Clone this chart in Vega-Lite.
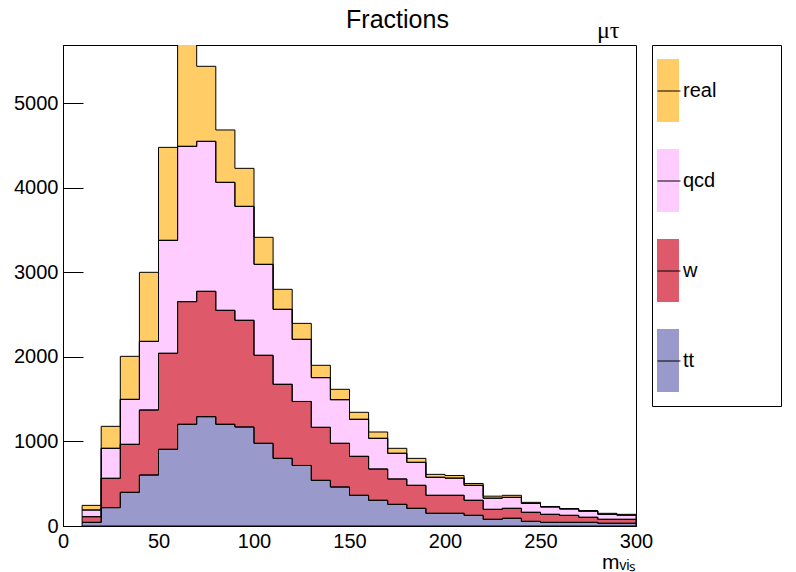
{
  "$schema": "https://vega.github.io/schema/vega-lite/v6.json",
  "width": 573,
  "height": 481,
  "autosize": {"type": "none"},
  "padding": {"left": 63, "top": 45, "right": 160, "bottom": 46},
  "background": "white",
  "title": {"text": "Fractions", "anchor": "middle", "dx": 48, "fontSize": 25, "font": "Liberation Sans", "fontWeight": "normal", "color": "black", "offset": -15},
  "datasets": {
    "hist": [
      {"lo": 10, "tt": 43, "w": 67, "qcd": 79, "real": 55},
      {"lo": 20, "tt": 217, "w": 347, "qcd": 355, "real": 260},
      {"lo": 30, "tt": 398, "w": 568, "qcd": 532, "real": 509},
      {"lo": 40, "tt": 603, "w": 769, "qcd": 812, "real": 817},
      {"lo": 50, "tt": 907, "w": 1136, "qcd": 1336, "real": 1100},
      {"lo": 60, "tt": 1203, "w": 1451, "qcd": 1837, "real": 1209},
      {"lo": 70, "tt": 1293, "w": 1483, "qcd": 1774, "real": 888},
      {"lo": 80, "tt": 1203, "w": 1348, "qcd": 1514, "real": 620},
      {"lo": 90, "tt": 1171, "w": 1262, "qcd": 1348, "real": 450},
      {"lo": 100, "tt": 978, "w": 1041, "qcd": 1076, "real": 320},
      {"lo": 110, "tt": 800, "w": 876, "qcd": 887, "real": 237},
      {"lo": 120, "tt": 716, "w": 757, "qcd": 735, "real": 189},
      {"lo": 130, "tt": 540, "w": 627, "qcd": 588, "real": 146},
      {"lo": 140, "tt": 461, "w": 517, "qcd": 516, "real": 123},
      {"lo": 150, "tt": 363, "w": 461, "qcd": 438, "real": 83},
      {"lo": 160, "tt": 304, "w": 370, "qcd": 363, "real": 75},
      {"lo": 170, "tt": 256, "w": 300, "qcd": 304, "real": 59},
      {"lo": 180, "tt": 209, "w": 272, "qcd": 272, "real": 47},
      {"lo": 190, "tt": 150, "w": 213, "qcd": 213, "real": 35},
      {"lo": 200, "tt": 150, "w": 213, "qcd": 203, "real": 31},
      {"lo": 210, "tt": 126, "w": 178, "qcd": 177, "real": 22},
      {"lo": 220, "tt": 79, "w": 118, "qcd": 132, "real": 24},
      {"lo": 230, "tt": 91, "w": 118, "qcd": 130, "real": 24},
      {"lo": 240, "tt": 55, "w": 107, "qcd": 106, "real": 12},
      {"lo": 250, "tt": 43, "w": 95, "qcd": 87, "real": 6},
      {"lo": 260, "tt": 43, "w": 83, "qcd": 75, "real": 6},
      {"lo": 270, "tt": 43, "w": 60, "qcd": 72, "real": 8},
      {"lo": 280, "tt": 32, "w": 47, "qcd": 59, "real": 12},
      {"lo": 290, "tt": 32, "w": 47, "qcd": 49, "real": 10},
      {"lo": 300, "tt": 32, "w": 47, "qcd": 49, "real": 10}
    ],
    "ord": [
      {"key": "tt", "k": 1},
      {"key": "w", "k": 2},
      {"key": "qcd", "k": 3},
      {"key": "real", "k": 4}
    ]
  },
  "data": {"name": "hist"},
  "transform": [
    {"fold": ["tt", "w", "qcd", "real"], "as": ["key", "count"]},
    {"lookup": "key", "from": {"data": {"name": "ord"}, "key": "key", "fields": ["k"]}}
  ],
  "config": {
    "view": {"stroke": "black", "strokeWidth": 1},
    "font": "Liberation Sans"
  },
  "layer": [
    {
      "mark": {"type": "area", "interpolate": "step-after", "clip": true, "opacity": 1},
      "encoding": {
        "x": {
          "field": "lo", "type": "quantitative",
          "scale": {"domain": [0, 300], "nice": false, "zero": false},
          "axis": {
            "values": [0, 50, 100, 150, 200, 250, 300],
            "tickSize": -13,
            "labelFlush": false,
            "labelOverlap": false,
            "labelFontSize": 20,
            "labelFont": "Liberation Sans",
            "labelColor": "black",
            "labelPadding": 18,
            "tickColor": "black",
            "domainColor": "black",
            "grid": false,
            "title": "mᵥᵢₛ",
            "titleAnchor": "end",
            "titleFont": "Liberation Sans",
            "titleFontSize": 21,
            "titleFontWeight": "normal",
            "titleColor": "black",
            "titlePadding": 0
          }
        },
        "y": {
          "field": "count", "type": "quantitative", "stack": "zero",
          "scale": {"domain": [0, 5690], "nice": false},
          "axis": {
            "values": [0, 1000, 2000, 3000, 4000, 5000],
            "format": "d",
            "tickSize": -20,
            "labelFontSize": 20,
            "labelFont": "Liberation Sans",
            "labelColor": "black",
            "labelPadding": 25,
            "tickColor": "black",
            "domainColor": "black",
            "grid": false,
            "title": null
          }
        },
        "fill": {
          "field": "key", "type": "nominal",
          "scale": {"domain": ["real", "qcd", "w", "tt"], "range": ["#FFCC66", "#FFCCFF", "#DE5A6A", "#9999CC"]},
          "legend": {
            "orient": "none", "legendX": 589, "legendY": 0, "title": null,
            "strokeColor": "black", "padding": 14,
            "symbolType": "M-1,-1H-0.302V1H-1Z", "symbolSize": 3969,
            "symbolStrokeWidth": 0, "symbolOpacity": 1,
            "rowPadding": 27, "symbolOffset": -9, "labelOffset": -37,
            "labelFontSize": 20, "labelFont": "Liberation Sans", "labelColor": "black",
            "labelExpr": "datum.label + '\u00a0\u00a0\u00a0\u00a0\u00a0\u00a0\u00a0\u00a0\u00a0\u200b'"
          }
        },
        "order": {"field": "k", "type": "quantitative", "sort": "ascending"}
      }
    },
    {
      "mark": {"type": "area", "interpolate": "step-after", "clip": true, "fill": "transparent", "strokeWidth": 1, "opacity": 1},
      "encoding": {
        "x": {
          "field": "lo", "type": "quantitative",
          "axis": {
            "orient": "bottom",
            "values": [0, 10, 20, 30, 40, 60, 70, 80, 90, 110, 120, 130, 140, 160, 170, 180, 190, 210, 220, 230, 240, 260, 270, 280, 290],
            "tickSize": -6, "tickColor": "black",
            "labels": false, "domain": false, "grid": false, "title": null
          }
        },
        "y": {
          "field": "count", "type": "quantitative", "stack": "zero",
          "axis": {
            "orient": "right", "title": "μτ", "ticks": false, "labels": false, "domain": false, "grid": false,
            "titleFont": "Liberation Serif", "titleFontSize": 24, "titleFontWeight": "normal", "titleColor": "black",
            "titleAngle": 0, "titleX": -17, "titleY": -8, "titleAlign": "right", "titleBaseline": "alphabetic"
          }
        },
        "stroke": {
          "field": "key", "type": "nominal",
          "scale": {"domain": ["tt", "w", "qcd", "real"], "range": ["black"]},
          "legend": {
            "orient": "none", "legendX": 589, "legendY": 0, "title": null,
            "padding": 14,
            "symbolType": "M-0.6,-1L-0.6,-1M-1,0H-0.27M-0.6,1L-0.6,1", "symbolSize": 3969,
            "symbolStrokeWidth": 1, "symbolOpacity": 1,
            "rowPadding": 22, "symbolOffset": -9, "labelOffset": -37,
            "labelFontSize": 20,
            "labelExpr": "''"
          }
        },
        "order": {"field": "k", "type": "quantitative", "sort": "ascending"}
      }
    }
  ],
  "resolve": {"axis": {"x": "independent", "y": "independent"}}
}
